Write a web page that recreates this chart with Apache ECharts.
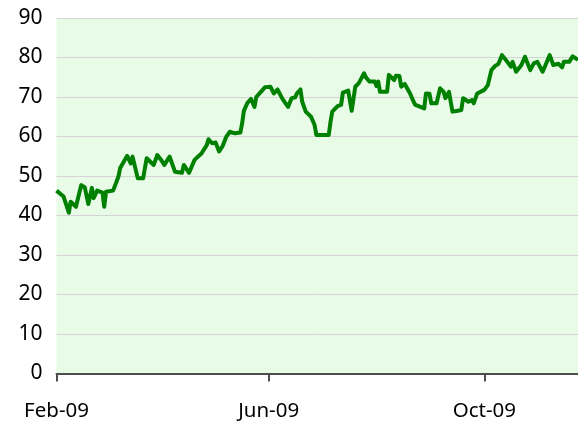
<!DOCTYPE html>
<html>
<head>
<meta charset="utf-8">
<script src="https://cdn.jsdelivr.net/npm/echarts@6/dist/echarts.min.js"></script>
<style>
html,body{margin:0;padding:0;background:#fff;}
#chart{width:578px;height:428px;}
</style>
</head>
<body>
<div id="chart"></div>
<script>
// Start date of the series (day offsets are counted from here)
const startDate = '2009-02-01';
// Day offsets since start date
const dayOffsets = [0,4,7,8,11,14,16,18,20,21,23,26,27,28,32,34,35,36,37,40,42,43,46,49,51,55,57,59,61,64,67,68,71,72,75,78,80,82,83,85,86,88,90,91,92,94,96,98,101,104,105,106,108,110,112,113,116,118,121,123,125,126,128,131,133,135,136,138,139,141,144,146,147,154,155,156,159,161,162,165,167,169,171,174,175,177,180,181,182,183,187,188,191,192,194,195,197,200,202,203,208,209,211,212,215,217,219,220,222,224,227,229,230,233,235,236,238,242,244,246,248,250,252,255,257,258,260,261,263,265,268,270,272,275,277,279,281,284,286,287,290,292,295];
// Series values
const values = [46.3,44.8,40.7,43.5,42.2,47.7,47.1,42.9,47.0,44.4,46.3,45.8,42.2,46.0,46.3,48.6,49.8,52.0,52.8,55.1,53.2,54.9,49.4,49.4,54.5,52.8,55.3,54.2,52.8,54.9,51.1,50.9,50.8,52.8,50.8,54.0,54.9,55.7,55.3,57.8,59.3,58.3,58.5,58.7,56.2,57.6,59.9,61.2,60.8,61.0,63.3,66.5,68.5,69.5,67.5,70.0,71.5,72.5,72.6,70.9,71.9,71.8,69.4,67.5,69.7,69.9,70.9,71.9,68.8,66.3,65.0,62.9,60.4,60.4,63.7,66.3,67.7,68.0,71.1,71.6,66.5,72.6,73.5,76.0,75.0,73.9,73.9,72.8,73.9,71.3,71.3,75.6,74.3,75.4,75.3,72.6,73.3,70.9,68.8,68.0,67.1,70.9,70.8,68.4,68.4,72.2,71.3,69.7,71.3,66.3,66.5,66.7,69.7,68.8,69.2,68.4,70.9,71.8,73.0,76.8,77.8,78.4,80.6,78.9,77.7,78.9,76.4,76.0,78.1,80.2,76.8,78.5,78.9,76.4,78.5,80.6,78.1,78.4,77.5,78.9,78.9,80.3,79.4];
// X tick positions (day offsets) and labels
const tickDays = [0,120,242];
const tickLabels = ['Feb-09','Jun-09','Oct-09'];
// Y axis range
const yMin = 0, yMax = 90, yStep = 10;

const seriesData = dayOffsets.map((d,i)=>[d, values[i]]);
const chart = echarts.init(document.getElementById('chart'), null, {renderer:'canvas'});
const font = 'Noto Sans';
chart.setOption({
  animation:false,
  grid:{left:56.5, right:0, top:18, bottom:54.5, show:true, backgroundColor:'#e7fbe7', borderWidth:0},
  xAxis:{
    type:'value', min:0, max:dayOffsets[dayOffsets.length-1],
    splitLine:{show:false},
    axisLine:{show:true, lineStyle:{color:'#4d4d4d', width:2}},
    axisTick:{show:true, customValues:tickDays, length:8, lineStyle:{color:'#4d4d4d', width:2}},
    axisLabel:{customValues:tickDays, margin:27, color:'#000', fontFamily:font, fontSize:20.5,
      formatter:(v)=>{const i=tickDays.indexOf(Math.round(v)); return i>=0?tickLabels[i]:'';}}
  },
  yAxis:{
    type:'value', min:yMin, max:yMax, interval:yStep,
    axisLine:{show:false}, axisTick:{show:false},
    splitLine:{show:true, lineStyle:{color:'#d4d4d4', width:1}},
    axisLabel:{margin:14, color:'#000', fontFamily:font, fontSize:21}
  },
  series:[{
    type:'line', data:seriesData, showSymbol:false, symbol:'none',
    lineStyle:{color:'#008000', width:4, join:'round'}
  }]
});
</script>
</body>
</html>
